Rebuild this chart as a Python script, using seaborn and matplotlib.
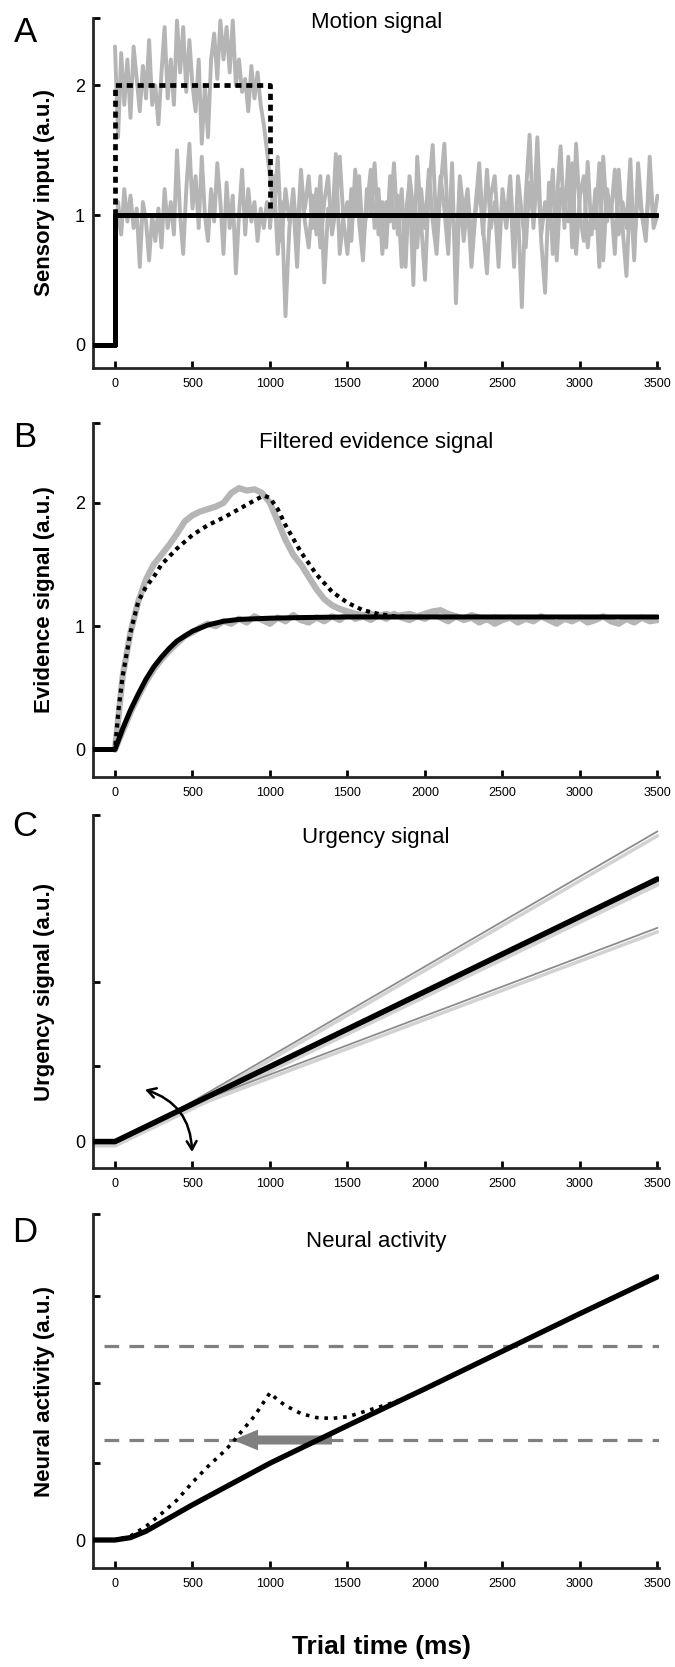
import numpy as np
import matplotlib
matplotlib.use("Agg")
import matplotlib.pyplot as plt
import seaborn as sns

# ---------------- data ----------------
x_ticks = [0, 500, 1000, 1500, 2000, 2500, 3000, 3500]
x_ticklabels = ["0", "500", "1000", "1500", "2000", "2500", "3000", "3500"]

# Panel A: motion signal
A_solid_t = [-140, 0, 0, 3500]
A_solid_v = [0, 0, 1, 1]
A_dotted_t = [-140, 0, 0, 1000, 1000, 3500]
A_dotted_v = [0, 0, 2, 2, 1, 1]
A_noise_high_early = [  # t = 0..1000 step 20
    2.30, 1.60, 2.25, 1.85, 2.20, 1.75, 2.30, 2.05, 1.80, 2.15,
    1.90, 2.35, 1.85, 2.00, 1.70, 2.10, 2.45, 1.90, 2.20, 1.85,
    2.50, 2.10, 2.45, 1.95, 2.35, 2.00, 1.80, 2.20, 1.55, 2.00,
    1.60, 2.20, 2.40, 2.05, 2.50, 2.20, 2.45, 2.10, 2.50, 2.00,
    2.20, 1.95, 2.05, 1.80, 2.15, 1.90, 2.10, 1.85, 1.70, 1.50,
    1.30]
A_noise_low_early = [  # t = 0..1000 step 20
    0.70, 1.10, 0.85, 1.20, 0.95, 1.15, 0.90, 1.05, 0.60, 1.10,
    0.95, 0.65, 1.00, 0.80, 1.05, 0.75, 1.20, 0.90, 1.10, 0.85,
    1.50, 1.00, 0.70, 1.20, 1.55, 1.05, 1.30, 0.90, 1.45, 1.00,
    0.80, 1.20, 0.95, 1.40, 1.10, 0.70, 1.25, 0.90, 1.15, 0.55,
    1.00, 1.35, 0.85, 1.20, 0.95, 1.10, 0.80, 1.05, 0.90, 1.10,
    0.95]
A_noise_late1 = [  # t = 1000..3500 step 25
    0.90, 1.30, 0.70, 1.10, 0.22, 0.90, 1.20, 0.80, 1.35, 0.95,
    0.75, 1.15, 0.85, 1.30, 0.48, 1.05, 0.90, 1.47, 0.70, 1.00,
    1.10, 0.80, 1.35, 0.95, 0.65, 1.20, 1.00, 1.40, 0.85, 1.10,
    0.75, 1.30, 0.90, 1.15, 0.60, 1.00, 1.25, 0.46, 1.45, 0.95,
    0.50, 1.20, 1.54, 0.85, 1.30, 1.05, 0.70, 1.40, 0.32, 1.20,
    0.80, 1.10, 0.60, 1.00, 1.25, 0.85, 1.35, 0.90, 1.10, 0.60,
    1.20, 0.95, 1.30, 0.75, 1.05, 0.29, 1.15, 1.62, 0.90, 1.40,
    0.80, 0.40, 1.25, 0.70, 1.10, 1.53, 0.90, 1.45, 0.75, 1.55,
    1.00, 0.80, 1.41, 0.85, 1.20, 0.60, 1.45, 0.95, 1.10, 0.70,
    1.35, 0.90, 0.53, 1.20, 0.65, 1.40, 1.00, 0.80, 1.45, 0.90,
    1.00]
A_noise_late2 = [  # t = 1000..3500 step 25
    1.30, 1.00, 1.45, 0.80, 1.20, 0.95, 1.10, 0.60, 1.25, 1.05,
    1.30, 0.90, 1.20, 0.75, 1.10, 1.30, 0.85, 1.05, 1.45, 0.95,
    0.70, 1.20, 1.00, 1.30, 0.80, 1.05, 1.35, 0.90, 1.20, 0.70,
    1.10, 0.95, 1.40, 0.85, 1.20, 0.60, 1.30, 1.05, 0.75, 1.20,
    0.90, 1.35, 0.95, 0.70, 1.20, 1.55, 0.90, 1.10, 0.65, 1.30,
    1.00, 1.20, 0.80, 1.05, 1.40, 0.90, 0.55, 1.15, 1.30, 0.85,
    1.10, 0.90, 1.20, 0.60, 1.30, 1.00, 0.75, 1.25, 0.95, 1.60,
    0.85, 1.10, 0.90, 1.35, 0.65, 1.20, 1.05, 0.95, 1.40, 0.70,
    1.15, 1.30, 0.75, 1.05, 0.90, 1.40, 0.65, 1.20, 1.00, 1.35,
    0.85, 1.10, 0.90, 1.43, 0.75, 1.20, 1.00, 0.85, 1.30, 0.95,
    1.15]

# Panel B: filtered evidence
B_solid_t = [-140, 0, 50, 100, 150, 200, 250, 300, 350, 400, 500, 600, 700, 800, 1000, 1200, 1500, 2000, 3500]
B_solid_v = [0, 0, 0.17, 0.32, 0.45, 0.57, 0.67, 0.75, 0.82, 0.88, 0.96, 1.01, 1.04, 1.055, 1.065, 1.07, 1.075, 1.075, 1.075]
B_dotted_t = [-140, 0, 25, 50, 100, 150, 200, 250, 300, 400, 500, 600, 700, 800, 900, 960, 1000, 1050, 1100,
              1200, 1300, 1400, 1500, 1600, 1700, 1800, 1900, 2000]
B_dotted_v = [0, 0, 0.35, 0.6, 0.95, 1.2, 1.32, 1.4, 1.5, 1.63, 1.74, 1.82, 1.88, 1.95, 2.02, 2.06, 2.04, 1.95, 1.82,
              1.6, 1.42, 1.28, 1.19, 1.13, 1.10, 1.08, 1.075, 1.075]
B_gray_solid = [  # t = 0..3500 step 50
    0.00, 0.15, 0.30, 0.43, 0.55, 0.65, 0.73, 0.80, 0.86, 0.92,
    0.95, 0.99, 1.02, 1.00, 1.04, 1.02, 1.06, 1.03, 1.08, 1.05,
    1.02, 1.07, 1.04, 1.09, 1.05, 1.03, 1.07, 1.04, 1.08, 1.05,
    1.10, 1.06, 1.08, 1.05, 1.09, 1.06, 1.10, 1.07, 1.05, 1.08,
    1.06, 1.10, 1.07, 1.04, 1.08, 1.05, 1.07, 1.03, 1.06, 1.02,
    1.05, 1.07, 1.03, 1.06, 1.04, 1.08, 1.05, 1.02, 1.06, 1.04,
    1.07, 1.03, 1.05, 1.08, 1.04, 1.02, 1.06, 1.03, 1.07, 1.04,
    1.05]
B_gray_dotted = [  # t = 0..2500 step 50
    0.00, 0.60, 0.95, 1.20, 1.38, 1.50, 1.58, 1.66, 1.75, 1.85,
    1.90, 1.93, 1.95, 1.97, 2.00, 2.08, 2.12, 2.10, 2.11, 2.08,
    2.00, 1.85, 1.70, 1.58, 1.50, 1.40, 1.30, 1.22, 1.17, 1.14,
    1.12, 1.10, 1.09, 1.10, 1.08, 1.10, 1.08, 1.09, 1.10, 1.08,
    1.10, 1.12, 1.13, 1.10, 1.08, 1.06, 1.09, 1.07, 1.05, 1.07,
    1.06]

# Panel C: urgency
C_mean_t = [-140, 0, 3500]
C_mean_v = [0, 0, 3.28]
C_mean_shadow_v = [-0.04, -0.04, 3.22]
C_steep_t = [0, 430, 3500]
C_steep_v = [0, 0.42, 3.875]
C_steep_shadow_v = [-0.03, 0.38, 3.82]
C_shallow_t = [0, 430, 3500]
C_shallow_v = [0, 0.42, 2.67]
C_shallow_shadow_v = [-0.03, 0.38, 2.62]
C_yticks = [0, 0.946, 1.99]

# Panel D: neural activity
D_solid_t = [-140, 0, 100, 200, 300, 400, 500, 750, 1000, 1500, 2000, 2500, 3000, 3500]
D_solid_v = [0, 0, 0.03, 0.11, 0.22, 0.33, 0.44, 0.70, 0.96, 1.43, 1.89, 2.36, 2.83, 3.29]
D_dotted_t = [-140, 0, 100, 200, 250, 300, 400, 500, 600, 700, 750, 800, 900, 1000, 1050, 1100, 1200,
              1300, 1400, 1500, 1600, 1700, 1800, 1900]
D_dotted_v = [0, 0, 0.05, 0.17, 0.25, 0.33, 0.5, 0.72, 0.92, 1.1, 1.2, 1.32, 1.55, 1.84, 1.75, 1.68, 1.58,
              1.53, 1.52, 1.54, 1.6, 1.66, 1.72, 1.80]
D_bounds = [1.25, 2.42]
D_bound_t = [-70, 3510]
D_arrow_tail_t, D_arrow_tip_t = 1400, 760
D_yticks = [0, 0.9625, 1.96, 3.05]

titles = ["Motion signal", "Filtered evidence signal", "Urgency signal", "Neural activity"]
ylabels = ["Sensory input (a.u.)", "Evidence signal (a.u.)", "Urgency signal (a.u.)", "Neural activity (a.u.)"]
letters = ["A", "B", "C", "D"]

# ---------------- style ----------------
sns.set_style("ticks")
plt.rcParams["font.family"] = ["Liberation Sans", "DejaVu Sans"]
plt.rcParams["text.color"] = "black"
plt.rcParams["axes.labelcolor"] = "black"
plt.rcParams["xtick.color"] = "black"
plt.rcParams["ytick.color"] = "black"

W, H = 675, 1667
fig = plt.figure(figsize=(W / 100, H / 100), dpi=100)

AX_L, AX_W = 93.3, 565.7
panels = [(18, 368), (423, 777), (815, 1168), (1214, 1568)]
title_y = [0.988, 0.944, 0.935, 0.921]
letter_y = [32, 437, 827, 1233]
ylims = [(-0.18, 2.52), (-0.223, 2.648), (-0.33, 4.08), (-0.35, 4.075)]

GRAY = "#b5b5b5"
axes = []
for i, (top, bot) in enumerate(panels):
    ax = fig.add_axes([AX_L / W, 1 - bot / H, AX_W / W, (bot - top) / H])
    axes.append(ax)


def line(ax, t, v, **kw):
    sns.lineplot(x=t, y=v, ax=ax, sort=False, estimator=None, legend=False, **kw)


# Panel A
ax = axes[0]
tA1 = np.arange(0, 1001, 20)
tA2 = np.arange(1000, 3501, 25)
line(ax, list(tA1) + list(tA2), A_noise_high_early + A_noise_late2, color=GRAY, lw=2.8, zorder=1)
line(ax, list(tA1) + list(tA2), A_noise_low_early + A_noise_late1, color=GRAY, lw=2.8, zorder=1)
line(ax, A_solid_t, A_solid_v, color="black", lw=3.6, zorder=3)
line(ax, A_dotted_t, A_dotted_v, color="black", lw=3.4, linestyle=(0, (1.3, 1.0)), zorder=4)

# Panel B
ax = axes[1]
line(ax, list(np.arange(0, 3501, 50)), B_gray_solid, color=GRAY, lw=4.5, zorder=1)
line(ax, list(np.arange(0, 2501, 50)), B_gray_dotted, color=GRAY, lw=4.5, zorder=1)
line(ax, B_solid_t, B_solid_v, color="black", lw=3.6, zorder=3)
line(ax, B_dotted_t, B_dotted_v, color="black", lw=3.0, linestyle=(0, (1.0, 1.1)), zorder=4)

# Panel C
ax = axes[2]
SH = "#d2d2d2"
line(ax, C_steep_t, C_steep_shadow_v, color=SH, lw=2.5, zorder=1)
line(ax, C_shallow_t, C_shallow_shadow_v, color=SH, lw=2.5, zorder=1)
line(ax, C_mean_t, C_mean_shadow_v, color=SH, lw=4.0, zorder=1)
line(ax, C_steep_t, C_steep_v, color="#8c8c8c", lw=1.3, zorder=2)
line(ax, C_shallow_t, C_shallow_v, color="#8c8c8c", lw=1.3, zorder=2)
line(ax, C_mean_t, C_mean_v, color="black", lw=4.0, zorder=3)
ax.annotate("", xy=(497, -0.13), xytext=(194, 0.65),
            arrowprops=dict(arrowstyle="<->,head_length=0.6,head_width=0.35",
                            connectionstyle="arc3,rad=-0.35", lw=1.8, color="black",
                            shrinkA=0, shrinkB=0), zorder=5)

# Panel D
ax = axes[3]
for b in D_bounds:
    line(ax, D_bound_t, [b, b], color="#808080", lw=2.3, linestyle=(0, (4.6, 3.2)), zorder=1)
line(ax, D_solid_t, D_solid_v, color="black", lw=3.8, zorder=3)
line(ax, D_dotted_t, D_dotted_v, color="black", lw=2.6, linestyle=(0, (1.0, 1.6)), zorder=4)
ax.annotate("", xy=(D_arrow_tip_t, D_bounds[0]), xytext=(D_arrow_tail_t, D_bounds[0]),
            arrowprops=dict(arrowstyle="simple,head_length=1.4,head_width=1.15,tail_width=0.5",
                            mutation_scale=13, color="#808080", lw=0, shrinkA=0, shrinkB=0), zorder=2)

# common axis formatting
yt = [[0, 1, 2], [0, 1, 2], C_yticks, D_yticks]
for i, ax in enumerate(axes):
    ax.set_xlim(-140, 3510)
    ax.set_ylim(*ylims[i])
    ax.set_xticks(x_ticks)
    ax.set_xticklabels(x_ticklabels, fontsize=9)
    ticks = list(yt[i]) + [ylims[i][1]]
    labels = ["0"] + (["1", "2"] if i < 2 else [""] * (len(yt[i]) - 1)) + [""]
    ax.set_yticks(ticks)
    ax.set_yticklabels(labels, fontsize=13)
    sns.despine(ax=ax)
    for s in ["left", "bottom"]:
        ax.spines[s].set_linewidth(2.0)
    ax.tick_params(direction="in", length=5, width=2.0, colors="black")
    ax.tick_params(axis="x", pad=7)
    ax.tick_params(axis="y", pad=6)
    ax.set_xlabel("")
    ax.set_ylabel("")
    ax.text(0.5, title_y[i], titles[i], transform=ax.transAxes, ha="center", va="center", fontsize=16)
    top, bot = panels[i]
    fig.text(45 / W, 1 - ((top + bot) / 2) / H, ylabels[i], rotation=90, ha="center", va="center",
             fontsize=16, fontweight="bold")
    fig.text(25 / W, 1 - letter_y[i] / H, letters[i], ha="center", va="center", fontsize=25)

fig.text(382 / W, 1 - 1647 / H, "Trial time (ms)", ha="center", va="center", fontsize=19, fontweight="bold")

fig.savefig("out.png", dpi=100)
